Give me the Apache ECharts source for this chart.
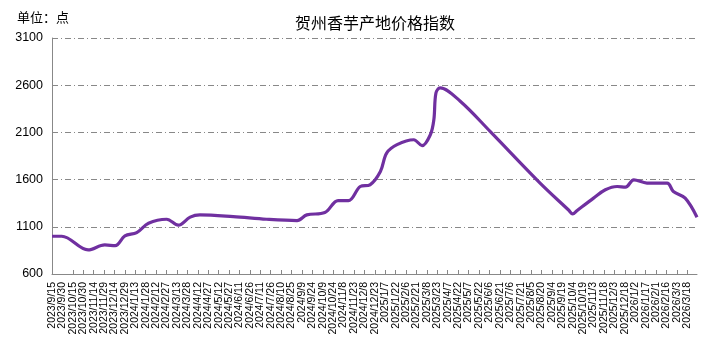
<!DOCTYPE html>
<html>
<head>
<meta charset="utf-8">
<script src="https://cdn.jsdelivr.net/npm/echarts@6/dist/echarts.min.js"></script>
<style>html,body{margin:0;padding:0;background:#fff}#c{width:713px;height:362px}</style>
</head>
<body>
<div id="c"></div>
<script>
const titleText = '贺州香芋产地价格指数';
const unitText = '单位：点';
const startDate = '2023/9/15';
const endDate = '2026/4/1';
const tickStepDays = 15;
const yTicks = [600, 1100, 1600, 2100, 2600, 3100];
const dates = ['2023/9/15','2023/9/29','2023/11/6','2023/11/30','2023/12/15','2023/12/29','2024/1/15','2024/2/1','2024/2/27','2024/3/15','2024/4/1','2024/4/15','2024/6/2','2024/7/20','2024/9/2','2024/9/16','2024/10/12','2024/10/31','2024/11/15','2024/12/2','2024/12/16','2024/12/31','2025/1/9','2025/1/24','2025/2/17','2025/3/1','2025/3/13','2025/3/18','2025/3/21','2025/3/27','2025/4/25','2025/6/7','2025/8/18','2025/9/28','2025/10/4','2025/10/10','2025/11/3','2025/11/20','2025/12/7','2025/12/19','2025/12/31','2026/1/19','2026/2/17','2026/2/26','2026/3/15','2026/4/1'];
const values = [1000,1000,855,908,900,1003,1039,1138,1180,1117,1202,1226,1208,1180,1166,1226,1251,1378,1378,1527,1545,1686,1881,1970,2022,1959,2076,2235,2518,2571,2430,2111,1563,1278,1236,1270,1404,1492,1527,1520,1598,1563,1563,1474,1404,1202];

const DAY = 86400000;
function toUTC(s){const p=s.split('/').map(Number);return Date.UTC(p[0],p[1]-1,p[2]);}
const t0 = toUTC(startDate);
function dayIdx(s){return Math.round((toUTC(s)-t0)/DAY);}
function fmt(d){const dt=new Date(t0+d*DAY);return dt.getUTCFullYear()+'/'+(dt.getUTCMonth()+1)+'/'+dt.getUTCDate();}
const seriesData = dates.map((d,i)=>[dayIdx(d), values[i]]);
const isTick = v => v >= 0 && Math.abs(v % tickStepDays) < 1e-9;

const labelBase = {rotate:90,fontSize:10.5,color:'#000',fontFamily:'Liberation Sans',margin:8,showMaxLabel:false,hideOverlap:false};

const chart = echarts.init(document.getElementById('c'));
chart.setOption({
  animation:false,
  backgroundColor:'#fff',
  title:[
    {text:titleText,left:370,top:10,textAlign:'center',textStyle:{fontSize:16,fontWeight:'normal',color:'#000',fontFamily:'Noto Sans CJK SC'}},
    {text:unitText,left:12,top:6,textStyle:{fontSize:13,fontWeight:'normal',color:'#000',fontFamily:'Noto Sans CJK SC'}}
  ],
  grid:{left:52,right:16,top:38,bottom:88,containLabel:false},
  xAxis:[{
    type:'value',min:0,max:dayIdx(endDate),interval:tickStepDays,position:'bottom',
    axisLine:{show:true,lineStyle:{color:'#888',width:1}},
    axisTick:{show:true,inside:true,length:4,lineStyle:{color:'#888'}},
    splitLine:{show:false},
    axisLabel:Object.assign({},labelBase,{showMinLabel:true,
      formatter:function(v){return isTick(v)?fmt(Math.round(v)):'';}})
  },{
    type:'value',min:0,max:dayIdx(endDate),interval:tickStepDays,position:'bottom',
    axisLine:{show:false},axisTick:{show:false},splitLine:{show:false},
    axisLabel:Object.assign({},labelBase,{showMinLabel:false,
      formatter:function(v){return (Math.round(v)===tickStepDays)?fmt(tickStepDays):'';}})
  }],
  yAxis:{
    type:'value',min:yTicks[0],max:yTicks[yTicks.length-1],interval:500,
    axisLine:{show:true,lineStyle:{color:'#888',width:1}},
    axisTick:{show:false},
    axisLabel:{fontSize:12.5,color:'#000',fontFamily:'Liberation Sans',margin:9,formatter:function(v){return String(v);}},
    splitLine:{show:true,lineStyle:{color:'#888',width:1,type:[6,3,1,3]}}
  },
  series:[{
    type:'line',xAxisIndex:0,data:seriesData,smooth:0.35,showSymbol:false,
    lineStyle:{color:'#7030A0',width:3.2},itemStyle:{color:'#7030A0'}
  }]
});
</script>
</body>
</html>
